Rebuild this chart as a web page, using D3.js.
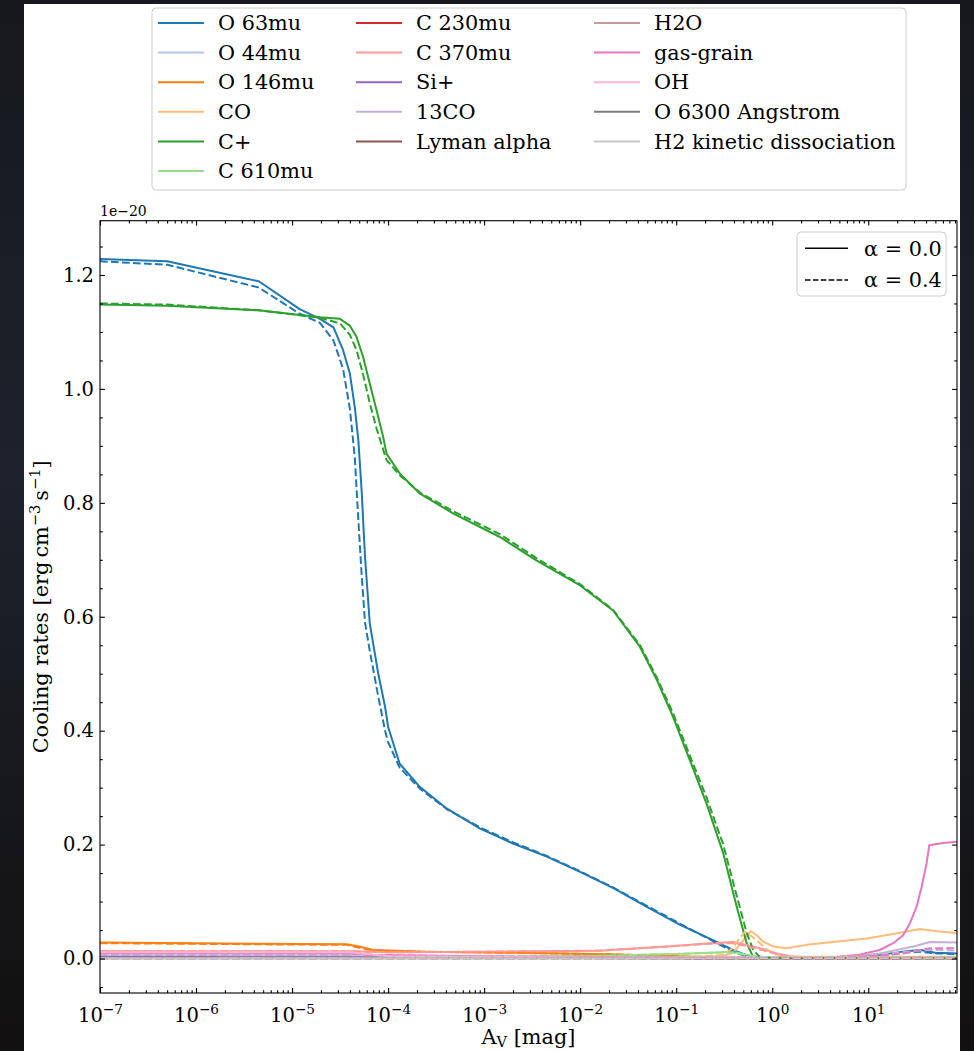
<!DOCTYPE html>
<html>
<head>
<meta charset="utf-8">
<script src="https://cdn.jsdelivr.net/npm/d3@7/dist/d3.min.js"></script>
<style>
  html, body { margin: 0; padding: 0; background: #0c0d10; }
  svg { display: block; }
  text { font-family: "DejaVu Serif", serif; fill: #000; }
</style>
</head>
<body>
<svg id="viz" width="974" height="1051"></svg>
<script>
'use strict'

// cooling rates are in units of 1e-20 erg cm^-3 s^-1, A_V in mag
const lineNames = ['O 63mu', 'O 44mu', 'O 146mu', 'CO', 'C+', 'C 610mu',
  'C 230mu', 'C 370mu', 'Si+', '13CO', 'Lyman alpha',
  'H2O', 'gas-grain', 'OH', 'O 6300 Angstrom', 'H2 kinetic dissociation']
const lineColors = ['#1f77b4', '#aec7e8', '#ff7f0e', '#ffbb78', '#2ca02c', '#98df8a',
  '#d62728', '#ff9896', '#9467bd', '#c5b0d5', '#8c564b',
  '#c49c94', '#e377c2', '#f7b6d2', '#7f7f7f', '#c7c7c7']
const alphaLabels = ['α = 0.0', 'α = 0.4']
const xTickExponents = [-7, -6, -5, -4, -3, -2, -1, 0, 1]
const yTicks = [0, 0.2, 0.4, 0.6, 0.8, 1.0, 1.2]

const avO63 = [1e-7, 5e-7, 4.5e-6, 1.2e-5, 1.95e-5, 2.7e-5, 3.4e-5, 4.0e-5, 4.5e-5, 4.9e-5,
  5.3e-5, 5.75e-5, 6.45e-5, 7.9e-5, 9.3e-5, 1.0e-4, 1.32e-4, 2.15e-4, 4.1e-4, 9.1e-4,
  2.0e-3, 4.5e-3, 1.0e-2, 2.25e-2, 4.9e-2, 0.11, 0.245, 0.39, 0.54, 0.75,
  1.0, 6.0, 13, 25, 35, 50, 84]
const o63Alpha0 = [1.228, 1.224, 1.189, 1.140, 1.123, 1.108, 1.068, 1.027, 0.968, 0.910,
  0.822, 0.705, 0.588, 0.500, 0.442, 0.407, 0.342, 0.301, 0.263, 0.228,
  0.202, 0.179, 0.152, 0.123, 0.091, 0.059, 0.032, 0.015, 0.006, 0.002,
  0.002, 0.003, 0.006, 0.013, 0.015, 0.010, 0.009]
const o63Alpha4 = [1.224, 1.218, 1.178, 1.132, 1.116, 1.085, 1.035, 0.965, 0.880, 0.770,
  0.675, 0.590, 0.540, 0.460, 0.400, 0.380, 0.335, 0.298, 0.262, 0.230,
  0.204, 0.180, 0.153, 0.124, 0.093, 0.061, 0.030, 0.012, 0.004, 0.001,
  0.001, 0.002, 0.005, 0.011, 0.012, 0.009, 0.008]

const avCp = [1e-7, 5e-7, 4.5e-6, 1.95e-5, 3.15e-5, 4.0e-5, 4.7e-5, 5.5e-5, 6.45e-5, 7.6e-5,
  8.9e-5, 9.65e-5, 1.33e-4, 2.15e-4, 4.8e-4, 1.46e-3, 3.5e-3, 1.0e-2, 2.2e-2, 4.2e-2,
  6.3e-2, 9.3e-2, 0.139, 0.207, 0.309, 0.427, 0.542, 0.634, 0.75, 1.0, 84]
const cpAlpha0 = [1.148, 1.146, 1.138, 1.126, 1.123, 1.111, 1.091, 1.056, 1.009, 0.962,
  0.915, 0.886, 0.851, 0.816, 0.781, 0.740, 0.699, 0.655, 0.611, 0.547,
  0.489, 0.424, 0.348, 0.272, 0.185, 0.091, 0.027, 0.003, 0.001, 0.001, 0.001]
const cpAlpha4 = [1.150, 1.148, 1.138, 1.125, 1.115, 1.095, 1.068, 1.025, 0.975, 0.930,
  0.893, 0.875, 0.848, 0.818, 0.785, 0.745, 0.703, 0.657, 0.612, 0.550,
  0.493, 0.430, 0.356, 0.283, 0.200, 0.110, 0.045, 0.015, 0.002, 0.001, 0.001]

const avO146 = [1e-7, 4.5e-6, 3.7e-5, 5e-5, 7e-5, 2.3e-4, 2e-3, 2e-2, 0.1, 0.3, 1, 84]
const o146Alpha0 = [0.028, 0.026, 0.025, 0.021, 0.015, 0.012, 0.010, 0.0075, 0.004, 0.0015, 0.001, 0.001]
const o146Alpha4 = [0.027, 0.025, 0.024, 0.019, 0.014, 0.012, 0.010, 0.0075, 0.004, 0.0015, 0.001, 0.001]

const avC370 = [1e-7, 4e-5, 1e-4, 1e-3, 1.6e-2, 8e-2, 0.225, 0.39, 0.54, 0.745, 1.11, 1.53, 3, 84]
const c370Alpha0 = [0.013, 0.013, 0.011, 0.012, 0.0137, 0.021, 0.027, 0.029, 0.024, 0.018, 0.009, 0.004, 0.001, 0.001]
const c370Alpha4 = [0.013, 0.013, 0.011, 0.012, 0.014, 0.021, 0.026, 0.027, 0.022, 0.016, 0.008, 0.003, 0.001, 0.001]

const avC610 = [1e-7, 1e-4, 1e-2, 0.1, 0.225, 0.39, 0.57, 0.9, 84]
const c610Alpha0 = [0.003, 0.002, 0.004, 0.008, 0.010, 0.012, 0.006, 0.002, 0.001]
const c610Alpha4 = [0.003, 0.002, 0.004, 0.008, 0.010, 0.011, 0.005, 0.002, 0.001]

const avCO = [1e-7, 0.1, 0.3, 0.39, 0.45, 0.52, 0.6, 0.7, 0.8, 1.03,
  1.41, 2.28, 4.3, 9.6, 18.2, 34.5, 51.5, 84]
const coAlpha0 = [0.002, 0.002, 0.004, 0.010, 0.022, 0.036, 0.048, 0.040, 0.030, 0.021,
  0.018, 0.024, 0.029, 0.035, 0.043, 0.052, 0.048, 0.045]
const coAlpha4 = [0.002, 0.002, 0.006, 0.018, 0.034, 0.047, 0.040, 0.031, 0.022, 0.008,
  0.004, 0.003, 0.003, 0.003, 0.003, 0.003, 0.003, 0.003]

const avGasGrain = [1e-7, 3.7e-5, 7e-5, 1e-3, 0.1, 1, 4, 7.6, 13.2, 18.2,
  23.1, 27.2, 31.9, 36, 40.5, 43.2, 60.4, 84]
const gasGrainAlpha0 = [0.009, 0.009, 0.006, 0.004, 0.002, 0.001, 0.002, 0.006, 0.015, 0.027,
  0.041, 0.062, 0.091, 0.126, 0.167, 0.199, 0.203, 0.205]
const gasGrainAlpha4 = [0.009, 0.009, 0.006, 0.004, 0.002, 0.001, 0.001, 0.003, 0.005, 0.007,
  0.009, 0.011, 0.013, 0.016, 0.017, 0.018, 0.018, 0.018]

const av13CO = [1e-7, 5, 13.2, 29.4, 43.9, 84]
const co13Alpha0 = [0.001, 0.002, 0.009, 0.021, 0.029, 0.028]
const co13Alpha4 = [0.001, 0.002, 0.007, 0.013, 0.015, 0.014]

const avOH = [1e-7, 4e-5, 1e-4, 1e-2, 84]
const ohRates = [0.011, 0.011, 0.004, 0.002, 0.001]

// the weak coolants hardly change with alpha, same values for both runs
const avFlat = [1e-7, 4e-5, 1e-4, 1e-2, 1, 84]
const o44Rates = [0.004, 0.004, 0.002, 0.001, 0.001, 0.001]
const c230Rates = [0.002, 0.002, 0.001, 0.001, 0.0005, 0.0005]
const siRates = [0.003, 0.003, 0.002, 0.001, 0.0005, 0.0005]
const lyaRates = [0.0005, 0.0005, 0.0005, 0.0003, 0.0003, 0.0003]
const h2oRates = [0.001, 0.001, 0.001, 0.001, 0.001, 0.002]
const o6300Rates = [0.001, 0.001, 0.001, 0.001, 0.001, 0.001]
const h2kinRates = [0.0005, 0.0005, 0.0005, 0.0005, 0.0005, 0.0005]

const lineData = [
  [avO63, o63Alpha0, o63Alpha4],
  [avFlat, o44Rates, o44Rates],
  [avO146, o146Alpha0, o146Alpha4],
  [avCO, coAlpha0, coAlpha4],
  [avCp, cpAlpha0, cpAlpha4],
  [avC610, c610Alpha0, c610Alpha4],
  [avFlat, c230Rates, c230Rates],
  [avC370, c370Alpha0, c370Alpha4],
  [avFlat, siRates, siRates],
  [av13CO, co13Alpha0, co13Alpha4],
  [avFlat, lyaRates, lyaRates],
  [avFlat, h2oRates, h2oRates],
  [avGasGrain, gasGrainAlpha0, gasGrainAlpha4],
  [avOH, ohRates, ohRates],
  [avFlat, o6300Rates, o6300Rates],
  [avFlat, h2kinRates, h2kinRates]
]

;(function (d3) {
  const plot = { left: 100, right: 957, top: 220.7, bottom: 993 }
  const fontSize = 20.8
  const tickFont = 19.5

  const svg = d3.select('#viz')
  drawBackground(svg)

  const xScale = d3.scaleLog().domain([1e-7, 84]).range([plot.left, plot.right])
  const yScale = d3.scaleLinear().domain([-0.0605, 1.2953]).range([plot.bottom, plot.top])

  svg.append('clipPath').attr('id', 'plot-clip')
    .append('rect')
    .attr('x', plot.left).attr('y', plot.top)
    .attr('width', plot.right - plot.left).attr('height', plot.bottom - plot.top)

  const line = d3.line()
    .x(d => xScale(d[0]))
    .y(d => yScale(d[1]))

  const g = svg.append('g').attr('clip-path', 'url(#plot-clip)')

  // solid runs (alpha = 0.0) first, then dashed runs (alpha = 0.4)
  ;[1, 2].forEach(k => {
    lineData.forEach((s, i) => {
      const pts = s[0].map((av, j) => [av, s[k][j]])
      g.append('path')
        .datum(pts)
        .attr('d', line)
        .attr('fill', 'none')
        .attr('stroke', lineColors[i])
        .attr('stroke-width', 2)
        .attr('stroke-linejoin', 'round')
        .attr('stroke-dasharray', k === 2 ? '7.7,3.3' : null)
    })
  })

  drawAxes(svg, xScale, yScale, plot, tickFont)
  drawLabels(svg, plot, fontSize)
  drawLegend(svg, fontSize)
  drawAlphaLegend(svg, fontSize)
})(d3)

function drawBackground (svg) {
  const defs = svg.append('defs')
  const grad = defs.append('linearGradient').attr('id', 'space')
    .attr('x1', 0).attr('y1', 0).attr('x2', 0).attr('y2', 1)
  grad.append('stop').attr('offset', 0).attr('stop-color', '#16181d')
  grad.append('stop').attr('offset', 0.45).attr('stop-color', '#1d222c')
  grad.append('stop').attr('offset', 1).attr('stop-color', '#121010')

  svg.append('rect').attr('width', 974).attr('height', 1051).attr('fill', 'url(#space)')
  svg.append('rect')
    .attr('x', 24).attr('y', 4)
    .attr('width', 936).attr('height', 1047)
    .attr('fill', '#ffffff')
}

function minorValues (domain) {
  const vals = []
  for (let e = -7; e <= 1; e++) {
    for (let m = 2; m <= 9; m++) {
      const v = m * Math.pow(10, e)
      if (v > domain[0] && v < domain[1]) vals.push(v)
    }
  }
  return vals
}

function drawAxes (svg, xScale, yScale, plot, fontSize) {
  const majorX = xTickExponents.map(e => Math.pow(10, e))
  const minorX = minorValues(xScale.domain())
  const minorY = d3.range(-0.05, 1.29, 0.05).filter(v => Math.abs(Math.round(v * 5) - v * 5) > 1e-6)
  const major = 4.9
  const minor = 2.8

  const bottom = svg.append('g').attr('class', 'x axis')
    .attr('transform', 'translate(0,' + plot.bottom + ')')
    .call(d3.axisBottom(xScale).tickValues(majorX).tickSize(-major).tickPadding(9).tickFormat(''))
  svg.append('g').attr('transform', 'translate(0,' + plot.bottom + ')')
    .call(d3.axisBottom(xScale).tickValues(minorX).tickSize(-minor).tickFormat(''))
  svg.append('g').attr('transform', 'translate(0,' + plot.top + ')')
    .call(d3.axisTop(xScale).tickValues(majorX).tickSize(-major).tickFormat(''))
  svg.append('g').attr('transform', 'translate(0,' + plot.top + ')')
    .call(d3.axisTop(xScale).tickValues(minorX).tickSize(-minor).tickFormat(''))

  svg.append('g').attr('class', 'y axis')
    .attr('transform', 'translate(' + plot.left + ',0)')
    .call(d3.axisLeft(yScale).tickValues(yTicks).tickSize(-major).tickPadding(6).tickFormat(d3.format('.1f')))
  svg.append('g').attr('transform', 'translate(' + plot.left + ',0)')
    .call(d3.axisLeft(yScale).tickValues(minorY).tickSize(-minor).tickFormat(''))
  svg.append('g').attr('transform', 'translate(' + plot.right + ',0)')
    .call(d3.axisRight(yScale).tickValues(yTicks).tickSize(-major).tickFormat(''))
  svg.append('g').attr('transform', 'translate(' + plot.right + ',0)')
    .call(d3.axisRight(yScale).tickValues(minorY).tickSize(-minor).tickFormat(''))

  svg.selectAll('.domain').remove()
  svg.selectAll('.tick line').attr('stroke', '#000').attr('stroke-width', 1.1)
  svg.selectAll('.tick text').attr('font-family', '"DejaVu Serif", serif')

  svg.selectAll('.y.axis .tick text').attr('font-size', fontSize).attr('fill', '#000')

  // log tick labels as 10 with a superscript exponent
  bottom.selectAll('.tick text').each(function (d, i) {
    const e = xTickExponents[i]
    const t = d3.select(this)
    t.text(null).attr('font-size', fontSize).attr('fill', '#000').attr('dy', '1.05em')
    t.append('tspan').text('10')
    t.append('tspan').text(e < 0 ? '\u2212' + Math.abs(e) : String(e))
      .attr('font-size', fontSize * 0.7).attr('dy', '-0.6em')
  })

  svg.append('rect')
    .attr('x', plot.left).attr('y', plot.top)
    .attr('width', plot.right - plot.left).attr('height', plot.bottom - plot.top)
    .attr('fill', 'none').attr('stroke', '#000').attr('stroke-width', 1.1)

  svg.append('text')
    .attr('x', plot.left).attr('y', plot.top - 5)
    .attr('font-size', 14)
    .text('1e\u221220')
}

function drawLabels (svg, plot, fontSize) {
  const xl = svg.append('text')
    .attr('x', (plot.left + plot.right) / 2).attr('y', 1044)
    .attr('text-anchor', 'middle').attr('font-size', fontSize)
  xl.append('tspan').text('A')
  xl.append('tspan').text('V').attr('font-size', fontSize * 0.7).attr('dy', '0.2em')
  xl.append('tspan').text(' [mag]').attr('dy', '-0.14em')

  const yl = svg.append('text')
    .attr('transform', 'translate(48,' + ((plot.top + plot.bottom) / 2) + ') rotate(-90)')
    .attr('text-anchor', 'middle').attr('font-size', fontSize)
  yl.append('tspan').text('Cooling rates [erg\u2009cm')
  yl.append('tspan').text('\u22123').attr('font-size', fontSize * 0.7).attr('dy', '-0.55em')
  yl.append('tspan').text('\u2009s').attr('dy', '0.385em')
  yl.append('tspan').text('\u22121').attr('font-size', fontSize * 0.7).attr('dy', '-0.55em')
  yl.append('tspan').text(']').attr('dy', '0.385em')
}

function drawLegend (svg, fontSize) {
  const box = { x: 152, y: 8, width: 754, height: 182 }
  const textX = [218, 416, 654]
  const rowStep = 29.6

  svg.append('rect')
    .attr('x', box.x).attr('y', box.y).attr('width', box.width).attr('height', box.height)
    .attr('rx', 4).attr('fill', '#fff').attr('fill-opacity', 0.8)
    .attr('stroke', '#cccccc').attr('stroke-width', 1)

  lineNames.forEach((name, i) => {
    const col = i < 6 ? 0 : (i < 11 ? 1 : 2)
    const row = col === 0 ? i : (col === 1 ? i - 6 : i - 11)
    const cy = 23 + row * rowStep
    svg.append('line')
      .attr('x1', textX[col] - 60).attr('x2', textX[col] - 14)
      .attr('y1', cy).attr('y2', cy)
      .attr('stroke', lineColors[i]).attr('stroke-width', 2)
    svg.append('text')
      .attr('x', textX[col]).attr('y', cy)
      .attr('dy', '0.35em').attr('font-size', fontSize)
      .text(name)
  })
}

function drawAlphaLegend (svg, fontSize) {
  svg.append('rect')
    .attr('x', 797).attr('y', 232).attr('width', 149).attr('height', 64)
    .attr('rx', 4).attr('fill', '#fff').attr('fill-opacity', 0.8)
    .attr('stroke', '#cccccc').attr('stroke-width', 1)

  alphaLabels.forEach((label, i) => {
    const cy = 248.3 + i * 31.7
    svg.append('line')
      .attr('x1', 805).attr('x2', 848).attr('y1', cy).attr('y2', cy)
      .attr('stroke', '#000').attr('stroke-width', 1.5)
      .attr('stroke-dasharray', i === 1 ? '5.5,2.4' : null)
    svg.append('text')
      .attr('x', 864).attr('y', cy).attr('dy', '0.35em')
      .attr('font-size', fontSize)
      .text(label)
  })
}
</script>
</body>
</html>
